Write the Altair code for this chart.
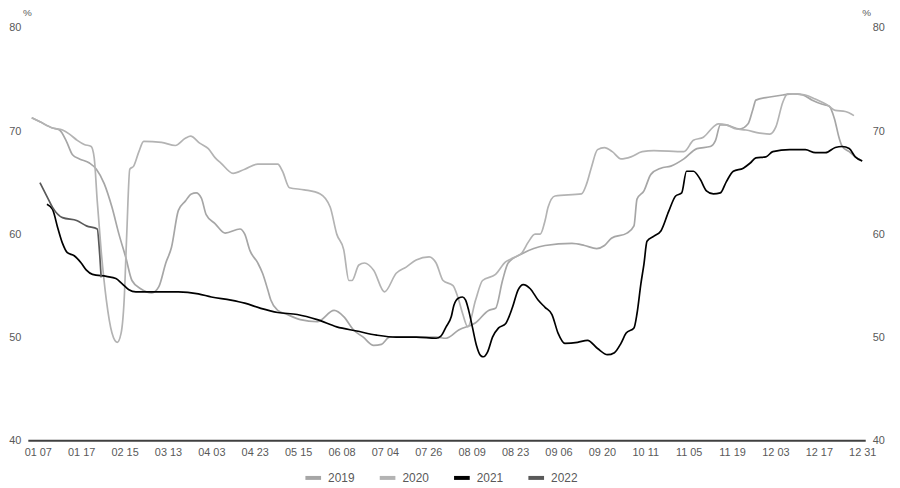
import altair as alt
import pandas as pd

# x-axis tick labels (trading-day categories, one label every fixed number of days)
labels = ["01 07", "01 17", "02 15", "03 13", "04 03", "04 23", "05 15", "06 08", "07 04", "07 26",
          "08 09", "08 23", "09 06", "09 20", "10 11", "11 05", "11 19", "12 03", "12 17", "12 31"]

years = ["2019", "2020", "2021", "2022"]
colors = ["#a6a6a6", "#b3b3b3", "#000000", "#595959"]

# position along the axis, in units of label intervals (0 = "01 07", 19 = "12 31")
x2019 = [-0.14, 0.05, 0.34, 0.50, 0.66, 0.80, 0.96, 1.19, 1.35, 1.53, 1.71, 1.87, 2.03, 2.17, 2.37, 2.63,
         2.79, 2.95, 3.08, 3.24, 3.40, 3.54, 3.65, 3.77, 3.88, 4.09, 4.32, 4.66, 4.77, 4.89, 5.07, 5.18,
         5.30, 5.37, 5.53, 5.75, 6.05, 6.44, 6.83, 7.05, 7.28, 7.50, 7.74, 7.92, 8.11, 8.26, 8.56, 8.88,
         9.18, 9.41, 9.70, 10.09, 10.39, 10.55, 10.71, 10.84, 11.16, 11.69, 12.31, 12.60, 12.88, 13.06,
         13.22, 13.58, 13.74, 13.81, 13.97, 14.13, 14.36, 14.59, 14.89, 15.19, 15.50, 15.62, 15.73, 15.84,
         16.18, 16.37, 16.48, 16.55, 16.87, 17.17, 17.40, 17.63, 17.85, 18.08, 18.24, 18.36, 18.47, 18.54,
         18.70, 18.84, 19.00]
v2019 = [71.3, 70.9, 70.3, 70.1, 69.0, 67.7, 67.3, 66.9, 66.3, 64.9, 62.6, 60.0, 57.7, 55.5, 54.7, 54.3,
         54.9, 57.2, 58.7, 62.3, 63.2, 63.9, 64.0, 63.5, 61.9, 61.0, 60.1, 60.5, 60.0, 58.4, 57.2, 56.2,
         54.6, 53.6, 52.6, 52.2, 51.7, 51.5, 52.6, 52.0, 50.7, 50.0, 49.2, 49.3, 50.0, 50.0, 50.0, 50.0,
         50.0, 49.9, 50.7, 51.4, 52.6, 52.8, 55.5, 57.2, 58.1, 58.9, 59.1, 58.9, 58.6, 58.9,
         59.6, 60.1, 60.8, 63.4, 64.2, 65.8, 66.4, 66.6, 67.3, 68.3, 68.5, 69.1, 70.6, 70.6,
         70.2, 70.7, 72.1, 73.0, 73.3, 73.5, 73.6, 73.5, 73.0, 72.6, 72.4, 71.2, 69.3, 68.5,
         68.0, 67.5, 67.1]

x2020 = [-0.14, 0.05, 0.34, 0.57, 0.73, 0.91, 1.07, 1.23, 1.30, 1.37, 1.46, 1.58, 1.71, 1.83, 1.92, 1.99,
         2.05, 2.12, 2.21, 2.33, 2.44, 2.85, 3.17, 3.40, 3.52, 3.74, 3.93, 4.09, 4.22, 4.50, 4.77, 5.07,
         5.53, 5.64, 5.80, 6.14, 6.51, 6.74, 6.89, 7.05, 7.17, 7.24, 7.40, 7.53, 7.74, 7.99, 8.26, 8.49,
         8.72, 9.02, 9.18, 9.34, 9.57, 9.68, 9.79, 9.91, 10.09, 10.25, 10.55, 10.78, 10.96, 11.16, 11.30,
         11.46, 11.58, 11.69, 11.76, 11.92, 12.53, 12.65, 12.76, 12.90, 13.06, 13.24, 13.44, 13.67, 13.93,
         14.20, 14.89, 15.11, 15.34, 15.57, 15.68, 15.87, 16.10, 16.32, 16.64, 16.87, 17.01, 17.17, 17.28,
         17.44, 17.69, 17.92, 18.24, 18.38, 18.61, 18.81]
v2020 = [71.3, 70.9, 70.3, 70.1, 69.7, 69.1, 68.7, 68.5, 67.4, 63.2, 58.4, 53.6, 50.4, 49.5, 50.4, 53.6,
         60.0, 66.3, 66.6, 68.0, 69.0, 68.9, 68.6, 69.3, 69.5, 68.8, 68.3, 67.4, 66.9, 65.9, 66.3, 66.8,
         66.8, 66.1, 64.5, 64.3, 63.9, 62.6, 60.0, 58.5, 55.5, 55.5, 57.0, 57.2, 56.5, 54.4, 56.2, 56.8,
         57.5, 57.8, 57.2, 55.5, 55.0, 53.9, 52.3, 51.0, 53.6, 55.5, 56.1, 57.3, 57.7, 58.2, 59.2,
         60.0, 60.0, 61.3, 62.6, 63.7, 63.9, 64.9, 66.5, 68.2, 68.4, 68.0, 67.3, 67.5, 68.0,
         68.1, 68.0, 69.1, 69.4, 70.4, 70.7, 70.6, 70.2, 70.1, 69.8, 69.7, 70.4, 72.8, 73.6,
         73.6, 73.5, 73.1, 72.4, 72.0, 71.9, 71.5]

x2021 = [0.21, 0.34, 0.46, 0.57, 0.68, 0.84, 1.00, 1.12, 1.26, 1.58, 1.80, 1.94, 2.10, 2.26, 2.63, 3.24,
         3.70, 4.00, 4.45, 4.77, 5.14, 5.53, 5.98, 6.44, 6.89, 7.35, 7.81, 8.26, 8.72, 9.18, 9.29, 9.41,
         9.53, 9.59, 9.70, 9.79, 9.86, 9.93, 10.02, 10.11, 10.21, 10.27, 10.37, 10.48, 10.62, 10.78, 10.94,
         11.07, 11.19, 11.35, 11.53, 11.69, 11.85, 11.99, 12.15, 12.44, 12.67, 12.90, 13.13, 13.29, 13.44,
         13.56, 13.74, 13.81, 13.90, 13.97, 14.04, 14.20, 14.36, 14.54, 14.70, 14.84, 14.95, 15.11, 15.27,
         15.41, 15.57, 15.73, 15.87, 16.03, 16.26, 16.42, 16.55, 16.78, 16.94, 17.33, 17.69, 17.92, 18.15,
         18.38, 18.54, 18.70, 18.84, 19.00]
v2021 = [62.9, 62.4, 60.6, 59.1, 58.2, 57.9, 57.2, 56.5, 56.1, 55.9, 55.7, 55.2, 54.6, 54.4, 54.4, 54.4,
         54.2, 53.9, 53.6, 53.3, 52.8, 52.4, 52.2, 51.7, 51.0, 50.6, 50.2, 50.0, 50.0, 49.9, 50.1, 51.0,
         52.0, 53.1, 53.8, 53.9, 53.6, 52.6, 50.9, 49.2, 48.2, 48.1, 48.6, 50.0, 50.9, 51.3, 52.9,
         54.6, 55.1, 54.7, 53.6, 52.9, 52.2, 50.4, 49.4, 49.5, 49.7, 48.9, 48.3, 48.5, 49.4,
         50.4, 50.9, 52.3, 55.2, 57.1, 59.3, 59.8, 60.3, 62.2, 63.7, 64.0, 66.1, 66.1, 65.3,
         64.2, 63.9, 64.0, 65.1, 66.1, 66.4, 66.9, 67.4, 67.5, 68.0, 68.2, 68.2, 67.9, 67.9,
         68.4, 68.5, 68.3, 67.5, 67.1]

x2022 = [0.05, 0.23, 0.34, 0.57, 0.91, 1.12, 1.37, 1.42, 1.46]
v2022 = [65.0, 63.5, 62.6, 61.6, 61.3, 60.8, 60.5, 58.4, 55.8]

rows = []
for name, xs, vs in [("2019", x2019, v2019), ("2020", x2020, v2020),
                     ("2021", x2021, v2021), ("2022", x2022, v2022)]:
    for xv, vv in zip(xs, vs):
        rows.append({"pos": xv, "val": vv, "year": name})
df = pd.DataFrame(rows)

FONT = "Liberation Sans"
GREY = "#595959"
label_expr = "[" + ",".join("'" + l + "'" for l in labels) + "][datum.value]"

xenc = alt.X("pos:Q",
             scale=alt.Scale(domain=[-0.23, 19.07], nice=False, zero=False),
             axis=alt.Axis(values=list(range(len(labels))), labelExpr=label_expr, title=None,
                           grid=False, ticks=False, domainColor="#404040", domainWidth=2,
                           labelColor=GREY, labelFont=FONT, labelFontSize=11, labelPadding=6,
                           labelFlush=False, labelOverlap=False))

yscale = alt.Scale(domain=[40, 80], nice=False, zero=False)

def yaxis(orient, tx):
    return alt.Axis(orient=orient, values=[40, 50, 60, 70, 80], title="%", titleAngle=0,
                    titleX=tx, titleY=-16, titleAlign="center", titleBaseline="middle",
                    titleFont=FONT, titleFontSize=10, titleFontWeight="normal", titleColor=GREY,
                    domain=False, ticks=False, grid=False, labelColor=GREY, labelFont=FONT,
                    labelFontSize=11, labelPadding=7)

lines = alt.Chart(df).mark_line(strokeWidth=1.7, interpolate="monotone").encode(
    x=xenc,
    y=alt.Y("val:Q", scale=yscale, axis=yaxis("left", -1)),
    color=alt.Color("year:N", scale=alt.Scale(domain=years, range=colors),
                    legend=alt.Legend(title=None, orient="none", direction="horizontal",
                                      legendX=278, legendY=444, symbolType="stroke",
                                      symbolStrokeWidth=4, symbolSize=250, labelFont=FONT,
                                      labelFontSize=12, labelColor=GREY, columnPadding=17,
                                      labelOffset=5, padding=0)),
    detail="year:N",
)

right = alt.Chart(df).mark_line(opacity=0).encode(
    x=xenc,
    y=alt.Y("val:Q", scale=yscale, axis=yaxis("right", 1)),
)

chart = alt.layer(lines, right).resolve_scale(y="independent").properties(
    width=845, height=416,
    background="white",
    autosize=alt.AutoSizeParams(type="none"),
    padding={"left": 20, "top": 18, "right": 27, "bottom": 46},
).configure_view(stroke=None)

chart.save("out.html", embed_options={"renderer": "svg", "actions": False})
